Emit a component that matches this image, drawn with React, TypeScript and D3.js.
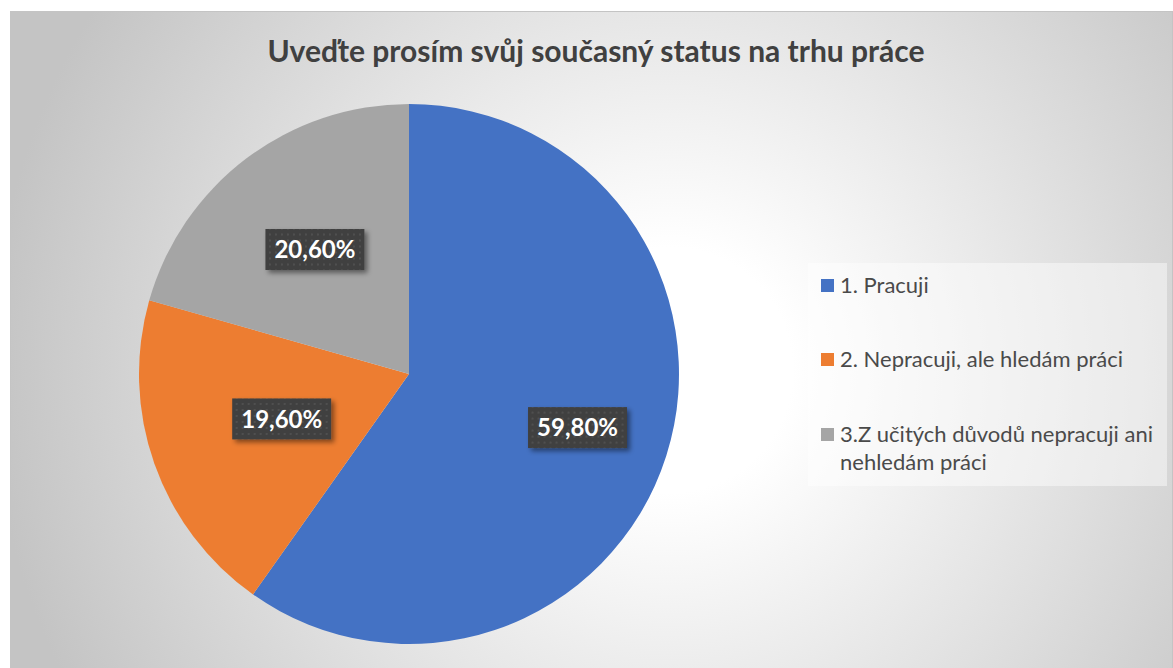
import React, { useEffect, useRef } from "react";
import { select, pie, arc, formatLocale } from "d3";

// data
const categories = [
  "1. Pracuji",
  "2. Nepracuji, ale hledám práci",
  "3.Z učitých důvodů nepracuji ani nehledám práci",
];
const shares = [59.8, 19.6, 20.6];
const colors = ["#4472C4", "#ED7D31", "#A5A5A5"];
const title = "Uveďte prosím svůj současný status na trhu práce";

const W = 1173;
const H = 668;
const FONT = "Lato, 'Open Sans', sans-serif";

const csFormat = formatLocale({
  decimal: ",",
  thousands: " ",
  grouping: [3],
  currency: ["", " Kč"],
}).format(".2f");

function App() {
  const svgRef = useRef<SVGSVGElement>(null);

  useEffect(() => {
    const svg = select(svgRef.current);
    svg.selectAll("*").remove();

    const cx = 409;
    const cy = 374;
    const radius = 270;
    // where excel put the data labels, as fraction of radius
    const labelFrac = [0.655, 0.5, 0.578];

    // defs
    const defs = svg.append("defs");
    const grad = defs
      .append("radialGradient")
      .attr("id", "bg")
      .attr("gradientUnits", "userSpaceOnUse")
      .attr("cx", 670)
      .attr("cy", 370)
      .attr("r", 680);
    grad.append("stop").attr("offset", 0).attr("stop-color", "#ffffff");
    grad.append("stop").attr("offset", 0.18).attr("stop-color", "#ffffff");
    grad.append("stop").attr("offset", 1).attr("stop-color", "#c4c4c4");

    const pat = defs
      .append("pattern")
      .attr("id", "dots")
      .attr("patternUnits", "userSpaceOnUse")
      .attr("width", 6)
      .attr("height", 6);
    pat.append("rect").attr("width", 6).attr("height", 6).attr("fill", "#404040");
    pat.append("circle").attr("cx", 3).attr("cy", 3).attr("r", 0.9).attr("fill", "#575757");

    const shadow = defs
      .append("filter")
      .attr("id", "shadow")
      .attr("x", "-20%")
      .attr("y", "-30%")
      .attr("width", "150%")
      .attr("height", "170%");
    shadow
      .append("feDropShadow")
      .attr("dx", 3)
      .attr("dy", 3)
      .attr("stdDeviation", 2.5)
      .attr("flood-color", "#000")
      .attr("flood-opacity", 0.45);

    // chart area
    svg
      .append("rect")
      .attr("x", 10.5)
      .attr("y", 11.5)
      .attr("width", 1162)
      .attr("height", 700)
      .attr("fill", "url(#bg)")
      .attr("stroke", "#c4c4c4");

    svg
      .append("text")
      .attr("x", 596)
      .attr("y", 62)
      .attr("text-anchor", "middle")
      .attr("font-family", FONT)
      .attr("font-weight", 700)
      .attr("font-size", 30)
      .attr("fill", "#404040")
      .text(title);

    // pie
    const arcs = pie<number>().sort(null).value((d) => d)(shares);
    const arcGen = arc<any>().innerRadius(0).outerRadius(radius);

    const g = svg.append("g").attr("transform", `translate(${cx},${cy})`);
    g.selectAll(".slice")
      .data(arcs)
      .join("path")
      .attr("class", "slice")
      .attr("fill", (d, i) => colors[i])
      .attr("d", arcGen);

    // data labels
    const labels = g
      .selectAll(".lbl")
      .data(arcs)
      .join("g")
      .attr("class", "lbl")
      .attr("transform", (d, i) => {
        const a = (d.startAngle + d.endAngle) / 2;
        const r = radius * labelFrac[i];
        return `translate(${Math.sin(a) * r},${-Math.cos(a) * r})`;
      });

    labels.each(function (d) {
      const lg = select(this);
      const t = lg
        .append("text")
        .attr("text-anchor", "middle")
        .attr("dy", "0.36em")
        .attr("font-family", FONT)
        .attr("font-weight", 700)
        .attr("font-size", 24)
        .attr("fill", "#ffffff")
        .text(csFormat(d.value) + "%");
      const bb = (t.node() as SVGTextElement).getBBox();
      lg.insert("rect", "text")
        .attr("x", -bb.width / 2 - 9)
        .attr("y", -20.5)
        .attr("width", bb.width + 18)
        .attr("height", 41)
        .attr("fill", "url(#dots)")
        .attr("filter", "url(#shadow)");
    });

    // legend
    svg
      .append("rect")
      .attr("x", 808)
      .attr("y", 263)
      .attr("width", 359)
      .attr("height", 223)
      .attr("fill", "#ffffff")
      .attr("fill-opacity", 0.45);

    const rowTop = [279, 353, 428];
    const legend = svg
      .selectAll(".leg")
      .data(categories)
      .join("g")
      .attr("class", "leg")
      .attr("transform", (d, i) => `translate(821,${rowTop[i]})`);

    legend
      .append("rect")
      .attr("width", 13)
      .attr("height", 13)
      .attr("fill", (d, i) => colors[i]);

    legend.each(function (d) {
      const t = select(this)
        .append("text")
        .attr("font-family", FONT)
        .attr("font-size", 22)
        .attr("fill", "#4a4a4a");
      // wrap long names
      const words = d.split(" ");
      let line: string[] = [];
      let lineNo = 0;
      let tspan = t.append("tspan").attr("x", 19).attr("y", 14);
      for (const w of words) {
        line.push(w);
        tspan.text(line.join(" "));
        if ((tspan.node() as SVGTSpanElement).getComputedTextLength() > 335 && line.length > 1) {
          line.pop();
          tspan.text(line.join(" "));
          line = [w];
          lineNo++;
          tspan = t
            .append("tspan")
            .attr("x", 19)
            .attr("y", 14 + lineNo * 28)
            .text(w);
        }
      }
    });
  }, []);

  return (
    <svg
      ref={svgRef}
      width={W}
      height={H}
      style={{ position: "fixed", left: 0, top: 0, background: "#ffffff" }}
    />
  );
}

export default App;
